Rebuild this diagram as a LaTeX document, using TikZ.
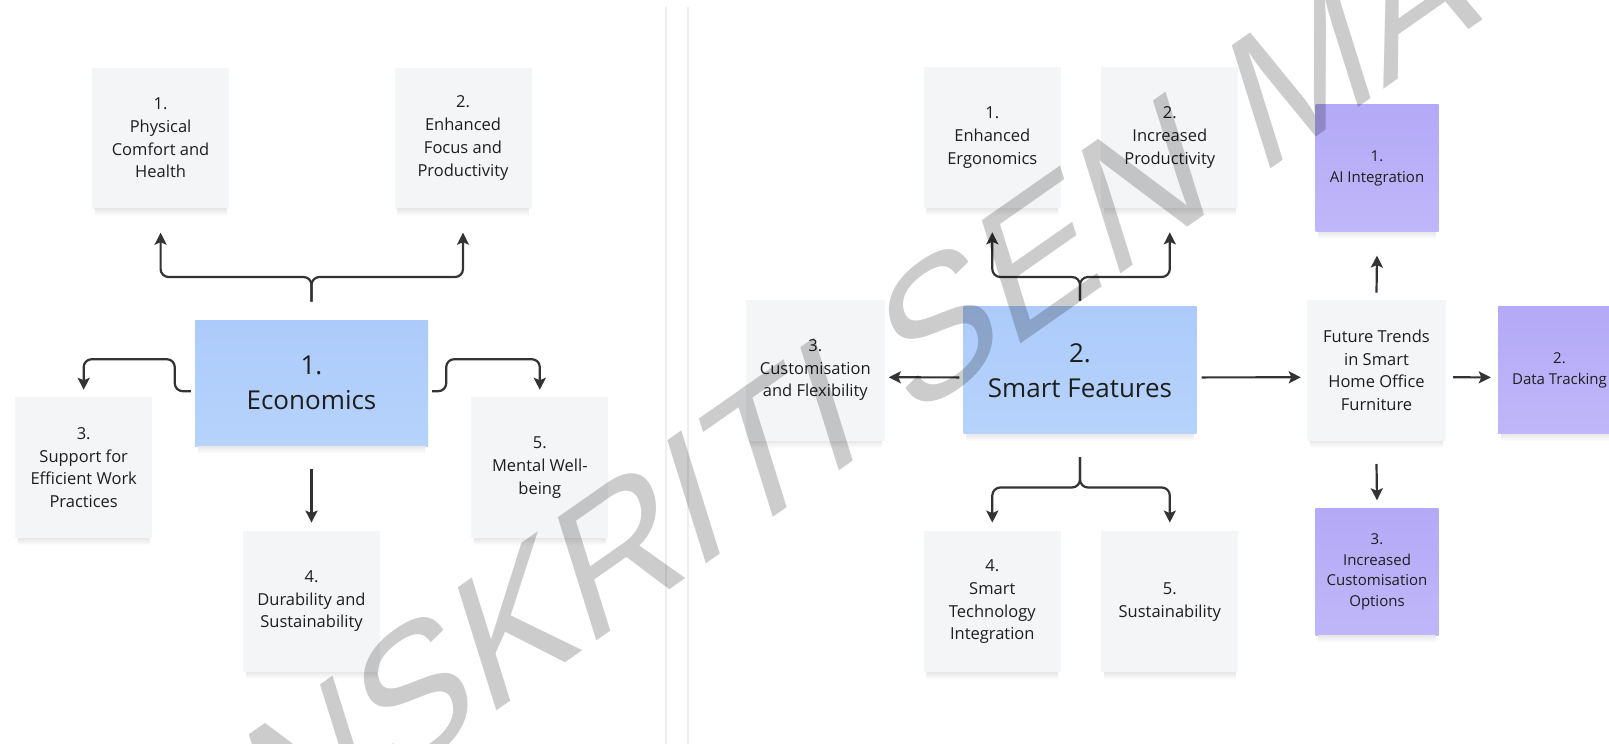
\documentclass[tikz,border=0pt]{standalone}
\usepackage{fontspec}
\setmainfont{Open Sans}
\newfontfamily\wmfont{Liberation Sans}
\usetikzlibrary{arrows.meta,calc}

\definecolor{notefill}{HTML}{F4F5F7}
\definecolor{blueA}{HTML}{ADCBFA}
\definecolor{blueB}{HTML}{B6D3FC}
\definecolor{purpA}{HTML}{B3A9F6}
\definecolor{purpB}{HTML}{C0B7FA}
\definecolor{ink}{HTML}{1E1E1E}
\definecolor{wire}{HTML}{333333}
\definecolor{rulegrey}{HTML}{EEEEEE}

\tikzset{
  card/.style={rectangle, inner sep=0pt, draw=none, text=ink, align=center},
  note/.style={card, minimum width=137pt, minimum height=141pt,
    fill=notefill, font=\fontsize{16.5}{22.7}\selectfont},
  topic/.style={card, minimum width=233pt, minimum height=126pt,
    top color=blueA, bottom color=blueB,
    font=\fontsize{26}{35}\selectfont},
  trend/.style={card, minimum width=123pt, minimum height=127pt,
    top color=purpA, bottom color=purpB,
    font=\fontsize{15}{20.5}\selectfont},
  conn/.style={draw=wire, line width=2.2pt, rounded corners=8pt,
    -{Stealth[length=12pt,width=12pt,inset=2.5pt]}},
  wmtext/.style={inner sep=0pt, text=black, text opacity=0.2,
    font=\wmfont\fontsize{100}{100}\selectfont, transform shape}
}

\begin{document}
\begin{tikzpicture}[x=1pt,y=-1pt]
\useasboundingbox (0,0) rectangle (1609,744);
\clip (0,0) rectangle (1609,744);
\fill[white] (0,0) rectangle (1609,744);

% faint frame dividers between the two boards
\draw[rulegrey, line width=1.2pt] (666,7) -- (666,744);
\draw[rulegrey, line width=1.2pt] (688,7) -- (688,744);

% ---------- board 1: Economics ----------
\node[topic] (econ) at (311.5,383.2) {1.\\Economics};
\node[note] (l1) at (160.6,138) {1.\\Physical\\Comfort and\\Health};
\node[note] (l2) at (463,138) {2.\\Enhanced\\Focus and\\Productivity};
\node[note] (l3) at (83.7,467.5) {3.\\Support for\\Efficient Work\\Practices};
\node[note] (l4) at (311.5,601.3) {4.\\Durability and\\Sustainability};
\node[note] (l5) at (539.8,467.5) {5.\\Mental Well-\\being};

\coordinate (ej) at (econ.north |- 0,277);
\draw[conn] ([yshift=18.5pt]econ.north) -- (ej) -| ([yshift=-24pt]l1.south);
\draw[conn] ([yshift=18.5pt]econ.north) -- (ej) -| ([yshift=-24pt]l2.south);
\draw[conn] ([xshift=-4pt,yshift=-8pt]econ.west) -- ++(-16,0) -- ++(0,-32) -| ([yshift=7pt]l3.north);
\draw[conn] ([xshift=4pt,yshift=-8pt]econ.east) -- ++(14,0) -- ++(0,-32) -| ([yshift=7pt]l5.north);
\draw[conn] ([yshift=-23pt]econ.south) -- ([yshift=8pt]l4.north);

% ---------- board 2: Smart Features ----------
\node[topic, minimum height=127pt] (smart) at (1080,370.4) {2.\\Smart Features};
\node[note] (r1) at (992.3,137.6) {1.\\Enhanced\\Ergonomics};
\node[note] (r2) at (1169.8,137.6) {2.\\Increased\\Productivity};
\node[note, minimum width=138.6pt] (r3) at (815.3,370.3) {3.\\Customisation\\and Flexibility};
\node[note] (r4) at (992.3,601.8) {4.\\Smart\\Technology\\Integration};
\node[note] (r5) at (1169.8,601.8) {5.\\Sustainability};
\node[note, minimum width=139pt] (fut) at (1376.5,370.3) {Future Trends\\in Smart\\Home Office\\Furniture};
\node[trend] (p1) at (1377,168.4) {1.\\AI Integration};
\node[trend] (p2) at (1559.5,370.4) {2.\\Data Tracking};
\node[trend] (p3) at (1377,572) {3.\\Increased\\Customisation\\Options};

% soft shadow strip under each card
\foreach \c in {econ,l1,l2,l3,l4,l5,smart,r1,r2,r3,r4,r5,fut,p1,p2,p3}
  \shade[top color=black!9, bottom color=white]
    ([xshift=3pt]\c.south west) rectangle ([xshift=-3pt,yshift=-7pt]\c.south east);

\coordinate (su) at (smart.north |- 0,277);
\coordinate (sd) at (smart.south |- 0,487.5);
\draw[conn] ([yshift=6pt]smart.north) -- (su) -| ([yshift=-24pt]r1.south);
\draw[conn] ([yshift=6pt]smart.north) -- (su) -| ([yshift=-24pt]r2.south);
\draw[conn] ([yshift=-23pt]smart.south) -- (sd) -| ([yshift=8.5pt]r4.north);
\draw[conn] ([yshift=-23pt]smart.south) -- (sd) -| ([yshift=8.5pt]r5.north);
\draw[conn] ([xshift=-4pt,yshift=-7pt]smart.west) -- ([xshift=4pt,yshift=-7pt]r3.east);
\draw[conn] ([xshift=5pt,yshift=-7pt]smart.east) -- ([xshift=-6pt,yshift=-7pt]fut.west);
\draw[conn] ([yshift=7pt]fut.north) -- ([yshift=-23.5pt]p1.south);
\draw[conn] ([xshift=7pt,yshift=-7pt]fut.east) -- ([xshift=-7pt,yshift=-7pt]p2.west);
\draw[conn] ([yshift=-23pt]fut.south) -- ([yshift=8pt]p3.north);

% ---------- watermark ----------
\begin{scope}[shift={(484,720)}, cm={1.499,1.050,-0.560,1.790,(0,0)}]
  \node[wmtext, anchor=base east] (wmA) at (0,0) {SANS};
  \node[wmtext, anchor=base west] (wmB) at (0,0) {KRITI SEN MA};
\end{scope}
\end{tikzpicture}
\end{document}
